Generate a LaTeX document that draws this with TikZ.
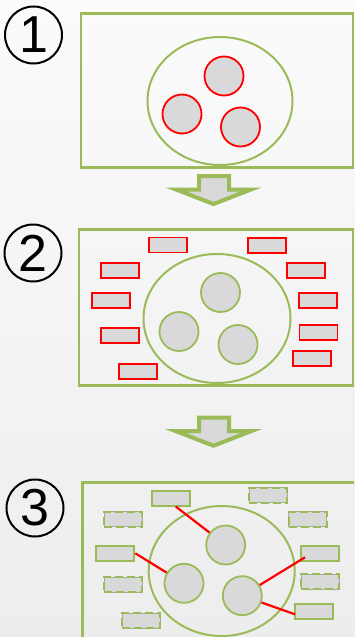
\documentclass[tikz,border=0pt]{standalone}
\usepackage{fontspec}
\setmainfont{Liberation Sans}
\usetikzlibrary{calc}
\definecolor{grn}{HTML}{9BBB59}
\definecolor{gry}{HTML}{D9D9D9}
\definecolor{rd}{HTML}{FF0000}
\definecolor{bgtop}{HTML}{FBFBFB}
\definecolor{bgbot}{HTML}{EDEDED}
\begin{document}
\begin{tikzpicture}[x=1pt,y=-1pt,
  panel/.style={draw=grn,line width=2.5pt,fill=none},
  oval/.style={draw=grn,line width=2pt},
  redcirc/.style={circle,draw=rd,line width=1.8pt,fill=gry,minimum size=39pt,inner sep=0pt},
  grncirc/.style={circle,draw=grn,line width=1.8pt,fill=gry,minimum size=39pt,inner sep=0pt},
  redbox/.style={rectangle,draw=rd,line width=1.8pt,fill=gry,minimum width=38pt,minimum height=15pt,inner sep=0pt},
  grnbox/.style={rectangle,draw=grn,line width=2pt,fill=gry,minimum width=38pt,minimum height=15pt,inner sep=0pt},
  dashbox/.style={rectangle,draw=gray!70,line width=0.5pt,fill=gry,minimum width=38pt,minimum height=15pt,inner sep=0pt,
     postaction={draw=grn,line width=2pt,dash pattern=on 8pt off 4pt}},
  link/.style={draw=rd,line width=2.2pt},
  numc/.style={circle,draw=black,line width=2pt,minimum size=57pt,inner sep=0pt,font=\fontsize{52}{52}\selectfont},
  barrow/.style={fill=gry,draw=grn,line width=4pt,line join=miter}]
\useasboundingbox (0,0) rectangle (355,637);
\shade[top color=bgtop,bottom color=bgbot] (0,0) rectangle (355,637);

% numbers
\node[numc] (n1) at (33.5,35) {1};
\node[numc] (n2) at (33,253) {2};
\node[numc] (n3) at (35,508) {3};

% ---- panel 1
\draw[panel] (81,13.5) rectangle (353,167.5);
\draw[oval] (220,101) ellipse [x radius=72.5,y radius=64];
\node[redcirc] (a1) at (224,76) {};
\node[redcirc] (a2) at (182,114) {};
\node[redcirc] (a3) at (240.5,127) {};

% arrow 1
\draw[barrow] (199,176) -- (229,176) -- (229,189.5) -- (251,189.5) -- (213.5,204) -- (176,189.5) -- (199,189.5) -- cycle;

% ---- panel 2
\draw[panel] (79,229.5) rectangle (353,385.5);
\draw[oval] (217,318.5) ellipse [x radius=73.5,y radius=64.5];
\node[grncirc] (b1) at (220.5,292.5) {};
\node[grncirc] (b2) at (179,331.5) {};
\node[grncirc] (b3) at (238,344.5) {};
\node[redbox] (r1) at (167.7,245) {};
\node[redbox] (r2) at (266.7,245.8) {};
\node[redbox] (r3) at (120.3,270.2) {};
\node[redbox] (r4) at (306,270.2) {};
\node[redbox] (r5) at (111.3,300.5) {};
\node[redbox] (r6) at (318,300.5) {};
\node[redbox] (r7) at (119.8,335.8) {};
\node[redbox] (r8) at (318.5,332.7) {};
\node[redbox] (r9) at (311.8,358.3) {};
\node[redbox] (r10) at (138.2,371.5) {};

% arrow 2
\draw[barrow] (199,417.7) -- (229,417.7) -- (229,431.2) -- (251,431.2) -- (213.5,445.7) -- (176,431.2) -- (199,431.2) -- cycle;

% ---- panel 3
\draw[panel] (82.5,640) -- (82.5,482.5) -- (354,482.5);
\draw[oval] (221.7,571) ellipse [x radius=73,y radius=65];
\node[grncirc] (c1) at (225.7,545) {};
\node[grncirc] (c2) at (184,583.3) {};
\node[grncirc] (c3) at (242.3,595.7) {};
\node[grnbox] (g1) at (171,498) {};
\node[dashbox] (g2) at (268,495) {};
\node[dashbox] (g3) at (123,519.2) {};
\node[dashbox] (g4) at (307.7,519.2) {};
\node[grnbox] (g5) at (115.3,553.3) {};
\node[grnbox] (g6) at (320,553.3) {};
\node[dashbox] (g7) at (123,584.8) {};
\node[dashbox] (g8) at (319.8,581.3) {};
\node[grnbox] (g9) at (314,611) {};
\node[dashbox] (g10) at (141,620.5) {};

\coordinate (l1) at ($(g1.south)+(4.7,0)$);
\coordinate (l3) at ($(g6.center)+(-15,4)$);
\coordinate (l4) at ($(g9.west)+(1,3.3)$);
\draw[link] (l1) -- (c1);
\draw[link] (g5.east) -- (c2);
\draw[link] (l3) -- (c3);
\draw[link] (c3) -- (l4);
\end{tikzpicture}
\end{document}
